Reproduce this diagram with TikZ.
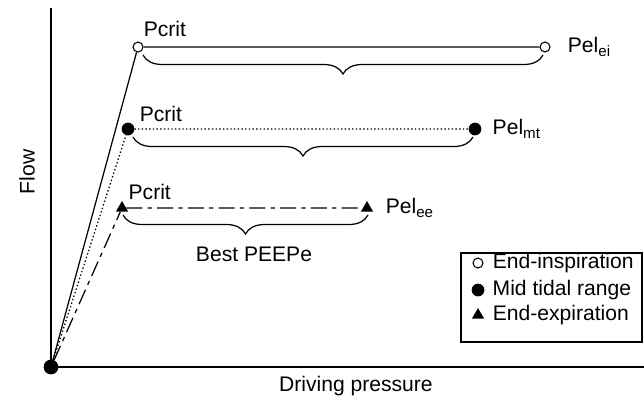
\documentclass[tikz,border=0pt]{standalone}
\usepackage{fontspec}
\setmainfont{Liberation Sans}
\usetikzlibrary{shapes.geometric, decorations.pathreplacing}
\newcommand{\pelsub}[1]{\raisebox{-0.35ex}{\fontsize{8.6}{9}\selectfont #1}}
\tikzset{every label/.append style={inner sep=0pt}}
\tikzset{
    ringmark/.style={circle, draw, fill=white, minimum size=0.2cm, inner sep=0pt, line width=0.6pt},
    dotmark/.style={circle, draw, fill, minimum size=0.24cm, inner sep=0pt},
    trimark/.style={regular polygon, regular polygon sides=3, fill, inner sep=0pt, minimum size=0.28cm},
    axis/.style={line width=0.9pt},
    curve/.style={line width=0.7pt},
    dots/.style={curve, dash pattern=on 0.8pt off 1.3pt},
    dashdot/.style={curve, dash pattern=on 9pt off 3pt on 2.5pt off 3pt},
    brc/.style={curve, decorate, decoration={brace, mirror, amplitude=0.38cm}}
}

\begin{document}
\begin{tikzpicture}[font=\fontsize{12}{14}\selectfont]
	\useasboundingbox (0,0) rectangle (12.88,8.04);
	\coordinate (ytop) at (1.02,7.88);
	\coordinate (xend) at (12.88,0.70);
	\node (O) [dotmark, minimum size=0.28cm] at (1.02,0.70) {};
	\node (Ot) [trimark] at (1.02,0.74) {};
	\node (ei1) [ringmark, label={[xshift=0.03cm, yshift=0.13cm]above right:Pcrit}] at (2.76,7.10) {};
	\node (ei2) [ringmark, label={[xshift=0.34cm]right:Pel\pelsub{ei}}] at (10.90,7.10) {};
	\node (mt1) [dotmark, label={[xshift=0.14cm, yshift=0.04cm]above right:Pcrit}] at (2.56,5.46) {};
	\node (mt2) [dotmark, label={[xshift=0.22cm]right:Pel\pelsub{mt}}] at (9.50,5.46) {};
	\node (ee1) [trimark, label={[xshift=0.07cm, yshift=0.11cm]above right:Pcrit}] at (2.44,3.88) {};
	\node (ee2) [trimark, label={[xshift=0.28cm]right:Pel\pelsub{ee}}] at (7.34,3.88) {};

	\draw [axis] (ytop) -- (O.center) -- (xend);
	\draw [curve] (O) -- (ei1) -- (ei2);
	\draw [dots] (O) -- (mt1) -- (mt2);
	\draw [dashdot] (O) -- (ee1) -- (ee2);

	% braces under the plateaus
	\draw [brc] (2.86,6.94) -- (10.86,6.94);
	\draw [brc] (2.66,5.30) -- (9.46,5.30);
	\draw [brc] (2.46,3.74) -- (7.36,3.74);
	\node (best) at (5.08,2.96) {Best PEEPe};

	\node (flow) [rotate=90] at (0.54,4.60) {Flow};
	\node (drv) at (7.12,0.32) {Driving pressure};

	% legend
	\node (legend) [draw, line width=0.6pt, minimum width=3.62cm, minimum height=1.78cm] at (11.03,2.09) {};
	\node (lgei) [ringmark, label={[xshift=0.18cm]right:End-inspiration}] at (9.56,2.78) {};
	\node (lgmt) [dotmark, label={[xshift=0.16cm]right:Mid tidal range}] at (9.56,2.24) {};
	\node (lgee) [trimark, label={[xshift=0.20cm]right:End-expiration}] at (9.56,1.74) {};
\end{tikzpicture}
\end{document}
